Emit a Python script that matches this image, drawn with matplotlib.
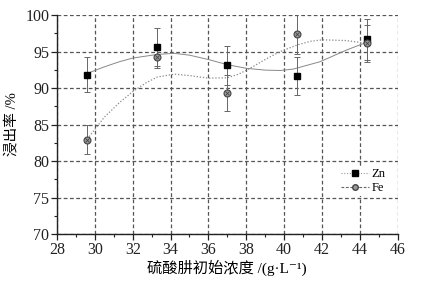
import matplotlib
matplotlib.use("Agg")
import matplotlib.pyplot as plt
from matplotlib.lines import Line2D
from matplotlib.ticker import MultipleLocator

plt.rcParams['font.family'] = ['Liberation Serif', 'Noto Sans CJK SC', 'DejaVu Serif']

# measured points
conc = [29.6, 33.3, 37.0, 40.7, 44.4]
zn = [91.8, 95.6, 93.1, 91.6, 96.7]
zn_err = [2.4, 2.6, 2.7, 2.6, 2.8]
fe = [82.9, 94.3, 89.3, 97.4, 96.1]
fe_err = [2.0, 1.5, 2.5, 2.7, 2.5]

# smooth fitted curves
zn_fit_x = [29.6, 30.5, 31.3, 32.0, 33.3, 34.2, 35.0, 36.0, 37.0, 38.0, 39.0,
            39.8, 40.5, 41.2, 41.9, 42.6, 43.3, 44.4]
zn_fit_y = [92.0, 92.9, 93.6, 94.1, 94.6, 94.75, 94.5, 93.9, 93.2, 92.7, 92.45,
            92.4, 92.6, 93.1, 93.6, 94.4, 95.2, 96.3]
fe_fit_x = [29.6, 30.5, 31.3, 32.0, 32.7, 33.3, 34.2, 35.0, 36.0, 37.0, 37.6,
            38.2, 39.0, 39.8, 40.7, 41.4, 42.0, 43.3, 44.4]
fe_fit_y = [83.0, 86.0, 88.0, 89.5, 90.7, 91.5, 91.9, 91.7, 91.35, 91.4, 91.9,
            92.7, 93.9, 95.0, 95.9, 96.4, 96.6, 96.5, 96.1]

fig = plt.figure(figsize=(4.21, 2.82), dpi=100)
ax = fig.add_axes([0.1354, 0.1702, 0.8090, 0.7766])

ax.plot(zn_fit_x, zn_fit_y, color='#888888', lw=0.7, ls='-', zorder=3)
ax.plot(fe_fit_x, fe_fit_y, color='#888888', lw=0.9, ls=(0, (1, 1.5)), zorder=3)

ax.errorbar(conc, zn, yerr=zn_err, fmt='none', ecolor='#666666', elinewidth=0.7,
            capsize=2.5, capthick=0.7, zorder=4)
ax.errorbar(conc, fe, yerr=fe_err, fmt='none', ecolor='#666666', elinewidth=0.7,
            capsize=2.5, capthick=0.7, zorder=4)
ax.plot(conc, zn, ls='none', marker='s', ms=5, mfc='black', mec='black', zorder=5)
ax.plot(conc, fe, ls='none', marker='o', ms=5, mfc='#9a9a9a', mec='#444444',
        mew=0.8, zorder=5)
ax.plot(conc, fe, ls='none', marker='x', ms=3.5, mec='#444444', mew=0.6, zorder=6)

ax.set_xlim(28, 46)
ax.set_ylim(70, 100)
ax.xaxis.set_major_locator(MultipleLocator(2))
ax.xaxis.set_minor_locator(MultipleLocator(1))
ax.yaxis.set_major_locator(MultipleLocator(5))
ax.yaxis.set_minor_locator(MultipleLocator(2.5))

ax.grid(True, which='major', color='#555555', lw=0.9, ls=(0, (3, 2)))
ax.yaxis.get_gridlines()[-1].set_visible(False)
ax.set_axisbelow(True)

for s in ['top', 'right']:
    ax.spines[s].set_visible(False)
for s in ['left', 'bottom']:
    ax.spines[s].set_linewidth(1.0)
    ax.spines[s].set_color('#222222')

ax.tick_params(which='major', direction='out', length=4, width=0.9,
               labelsize=11.5, pad=1.5, colors='#222222')
ax.tick_params(which='minor', direction='out', length=2, width=0.8, colors='#222222')

ax.set_xlabel('硫酸肼初始浓度 /(g·L⁻¹)', fontsize=11, labelpad=1.5)
ax.set_ylabel('浸出率 /%', fontsize=10.5, labelpad=5)

handles = [
    Line2D([], [], color='#999999', lw=0.8, ls=(0, (1, 1.5)), marker='s', ms=4,
           mfc='black', mec='black', label='Zn'),
    Line2D([], [], color='#666666', lw=0.8, ls=(0, (2.5, 1.5)), marker='o', ms=4,
           mfc='#9a9a9a', mec='#444444', label='Fe'),
]
leg = ax.legend(handles=handles, loc='center right', bbox_to_anchor=(0.99, 0.242),
                fontsize=9, handlelength=2.2, handletextpad=0.2, labelspacing=0.15,
                borderpad=0.2, frameon=True, facecolor='white', edgecolor='none',
                framealpha=1)
leg.set_zorder(7)

fig.savefig('out.png', dpi=100)
